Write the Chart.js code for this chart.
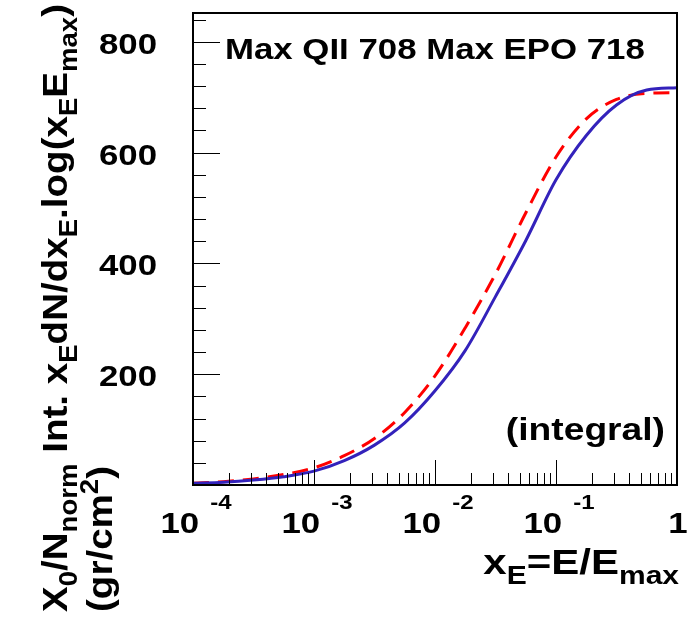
<!DOCTYPE html>
<html>
<head>
<meta charset="utf-8">
<script src="https://cdn.jsdelivr.net/npm/chart.js@4"></script>
<style>
  html, body { margin: 0; padding: 0; background: #fff; }
  canvas { display: block; }
</style>
</head>
<body>
<canvas id="chart" width="689" height="620"></canvas>
<script>
// x_E = E/E_max sample points (log spaced)
const xE = [1e-4, 1.78e-4, 3.16e-4, 5.62e-4, 1e-3, 1.78e-3, 3.16e-3, 5.62e-3,
            1e-2, 1.78e-2, 3.16e-2, 5.62e-2, 0.1, 0.178, 0.316, 0.562, 1];
// red dashed curve (QII)
const qii = [3, 6, 11, 19, 31, 53, 84, 131, 197, 284, 381, 491, 592, 661, 696, 707, 708];
// blue solid curve (EPO)
const epo = [3, 5, 9, 15, 25, 44, 72, 112, 170, 243, 340, 441, 551, 631, 686, 713, 717];

const xDecades = [1e-4, 1e-3, 1e-2, 1e-1];
const xDecadeExp = ['-4', '-3', '-2', '-1'];
const yMajor = [200, 400, 600, 800];

const SX = 1.2; // horizontal stretch of the ROOT style lettering
const FONT = '"Liberation Sans", Arial, sans-serif';

function f(size) { return 'bold ' + size + 'px ' + FONT; }

function runWidth(ctx, runs, sx) {
  sx = sx || SX;
  let w = 0;
  runs.forEach(r => { ctx.font = f(r.size); w += ctx.measureText(r.t).width * sx; });
  return w;
}

// draw a list of text runs starting at (0,0) of the current transform
function drawRuns(ctx, runs, sx) {
  sx = sx || SX;
  let x = 0;
  runs.forEach(r => {
    ctx.save();
    ctx.font = f(r.size);
    ctx.translate(x, r.dy || 0);
    ctx.scale(sx, 1);
    ctx.fillText(r.t, 0, 0);
    ctx.restore();
    ctx.font = f(r.size);
    x += ctx.measureText(r.t).width * sx;
  });
}

const rootStyle = {
  id: 'rootStyle',
  afterDatasetsDraw(chart) {
    const ctx = chart.ctx;
    const a = chart.chartArea;
    const xs = chart.scales.x, ys = chart.scales.y;
    ctx.save();
    ctx.fillStyle = '#000';
    ctx.textBaseline = 'alphabetic';
    ctx.textAlign = 'left';

    // inner ticks on the y axis
    ctx.strokeStyle = '#000';
    ctx.lineWidth = 1;
    for (let v = 40; v < ys.max; v += 40) {
      const py = Math.round(ys.getPixelForValue(v)) + 0.5;
      const len = v % 200 === 0 ? 27 : 13;
      ctx.beginPath();
      ctx.moveTo(a.left, py);
      ctx.lineTo(a.left + len, py);
      ctx.stroke();
    }
    // inner ticks on the x axis
    for (let d = -4; d <= 0; d++) {
      for (let m = 1; m <= 9; m++) {
        const v = m * Math.pow(10, d);
        if (v > 1.0001) break;
        const px = Math.round(xs.getPixelForValue(v)) + 0.5;
        const len = m === 1 ? 25 : 12;
        ctx.beginPath();
        ctx.moveTo(px, a.bottom);
        ctx.lineTo(px, a.bottom - len);
        ctx.stroke();
      }
    }

    // frame
    ctx.lineWidth = 2;
    ctx.strokeRect(a.left, a.top, a.right - a.left, a.bottom - a.top);

    // y tick labels
    yMajor.forEach(v => {
      const py = ys.getPixelForValue(v);
      const runs = [{ t: String(v), size: 29 }];
      const w = runWidth(ctx, runs);
      ctx.save();
      ctx.translate(157 - w, py + 12);
      drawRuns(ctx, runs);
      ctx.restore();
    });

    // x tick labels 10^n
    xDecades.forEach((v, i) => {
      const px = xs.getPixelForValue(v);
      ctx.font = f(29);
      const w1 = ctx.measureText('10').width * SX;
      ctx.font = f(20);
      const w2 = ctx.measureText(xDecadeExp[i]).width * SX;
      const gap = 11;
      const x0 = px + 3 - (w1 + gap + w2) / 2;
      ctx.save();
      ctx.translate(x0, 533);
      drawRuns(ctx, [{ t: '10', size: 29 }]);
      ctx.translate(w1 + gap, -24);
      drawRuns(ctx, [{ t: xDecadeExp[i], size: 20 }]);
      ctx.restore();
    });
    {
      const px = xs.getPixelForValue(1);
      ctx.font = f(29);
      const w = ctx.measureText('1').width * SX;
      ctx.save();
      ctx.translate(px - w / 2 + 1, 533);
      drawRuns(ctx, [{ t: '1', size: 29 }]);
      ctx.restore();
    }

    // x title
    const xTitle = [
      { t: 'x', size: 35 }, { t: 'E', size: 25, dy: 10 },
      { t: '=E/E', size: 35 }, { t: 'max', size: 25, dy: 10 }
    ];
    ctx.save();
    ctx.translate(a.right + 2 - runWidth(ctx, xTitle), 574);
    drawRuns(ctx, xTitle);
    ctx.restore();

    // y title, two lines, rotated
    const yTitle1 = [
      { t: 'X', size: 35 }, { t: '0', size: 25, dy: 10 },
      { t: '/N', size: 35 }, { t: 'norm', size: 25, dy: 10 },
      { t: ' Int. x', size: 35 }, { t: 'E', size: 25, dy: 10 },
      { t: 'dN/dx', size: 35 }, { t: 'E', size: 25, dy: 10 },
      { t: '.log(x', size: 35 }, { t: 'E', size: 25, dy: 10 },
      { t: 'E', size: 35 }, { t: 'max', size: 25, dy: 10 },
      { t: ')', size: 35 }
    ];
    const yTitle2 = [
      { t: '(gr/cm', size: 35 }, { t: '2', size: 25, dy: -14 }, { t: ')', size: 35 }
    ];
    const sxY = 608 / runWidth(ctx, yTitle1, 1);
    ctx.save();
    ctx.translate(67, 612);
    ctx.rotate(-Math.PI / 2);
    drawRuns(ctx, yTitle1, sxY);
    ctx.restore();
    ctx.save();
    ctx.translate(112, 612);
    ctx.rotate(-Math.PI / 2);
    drawRuns(ctx, yTitle2, sxY);
    ctx.restore();

    // text inside the frame
    ctx.save();
    ctx.translate(225, 59);
    drawRuns(ctx, [{ t: 'Max QII 708 Max EPO 718', size: 29 }]);
    ctx.restore();
    const integ = [{ t: '(integral)', size: 31 }];
    ctx.save();
    ctx.translate(665 - runWidth(ctx, integ), 440);
    drawRuns(ctx, integ);
    ctx.restore();

    ctx.restore();
  }
};

const ctx = document.getElementById('chart').getContext('2d');
new Chart(ctx, {
  type: 'line',
  data: {
    datasets: [{
      label: 'QII',
      data: xE.map((x, i) => ({ x: x, y: qii[i] })),
      borderColor: '#ff0000',
      borderWidth: 3,
      borderDash: [16, 9],
      pointRadius: 0,
      fill: false,
      cubicInterpolationMode: 'monotone',
      order: 1
    }, {
      label: 'EPO',
      data: xE.map((x, i) => ({ x: x, y: epo[i] })),
      borderColor: '#3322bb',
      borderWidth: 3,
      pointRadius: 0,
      fill: false,
      cubicInterpolationMode: 'monotone',
      order: 0
    }]
  },
  options: {
    responsive: false,
    animation: false,
    layout: { padding: { left: 193, top: 13, right: 12, bottom: 135 } },
    plugins: { legend: { display: false }, tooltip: { enabled: false } },
    scales: {
      x: { type: 'logarithmic', min: 1e-4, max: 1, display: false },
      y: { type: 'linear', min: 0, max: 852, display: false }
    }
  },
  plugins: [rootStyle]
});
</script>
</body>
</html>
